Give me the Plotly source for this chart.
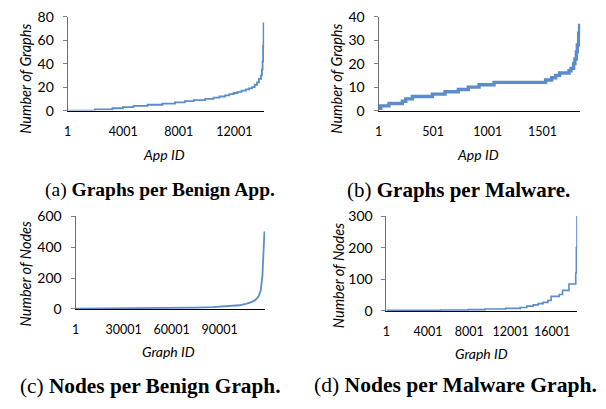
import plotly.graph_objects as go

# ---------------- data ----------------
# (a) Graphs per Benign App: step starts (App ID) and values
a_ids  = [1, 1967, 3223, 3981, 4739, 5758, 6825, 7725, 8436, 9076, 9905, 10498, 10924,
          11327, 11635, 11943, 12228, 12512, 12820, 13057, 13270, 13460, 13626, 13768,
          13910, 13981, 14029, 14064, 14100]
a_vals = [0, 1, 2, 3, 4, 5, 6, 7, 8, 9, 10, 11, 12, 13, 14, 15, 16, 17, 18, 19, 20, 22,
          24, 27, 30, 35, 42, 55, 75]

# (b) Graphs per Malware
b_ids  = [1, 21, 97, 219, 250, 311, 494, 609, 731, 822, 920, 1057, 1529, 1584, 1621,
          1657, 1743, 1761, 1785, 1797, 1810, 1819, 1831, 1840]
b_vals = [1, 2, 3, 4, 5, 6, 7, 8, 9, 10, 11, 12, 13, 14, 15, 16, 17, 18, 20, 22, 25,
          28, 33, 37]

# (c) Nodes per Benign Graph
c_ids  = [1, 44000, 56700, 75000, 85700, 97070, 102290, 106380, 109490, 112220, 114270,
          115700, 116760, 117380, 118000]
c_vals = [2, 4, 6, 9, 12, 18, 24, 33, 43, 57, 80, 120, 220, 365, 500]

# (d) Nodes per Malware Graph
d_ids  = [1, 5200, 7900, 9500, 11500, 12920, 13551, 14181, 14652, 15122, 15593, 15903,
          16684, 17004, 17625, 18280, 18340, 18400]
d_vals = [2, 3, 4, 6, 8, 11, 15, 19, 23, 27, 33, 46, 52, 65, 85, 120, 200, 300]

a_ticks = [1, 4001, 8001, 12001]
b_ticks = [1, 501, 1001, 1501]
c_ticks = [1, 30001, 60001, 90001]
d_ticks = [1, 4001, 8001, 12001, 16001]

W, H = 606, 409
BLUE = "#5B8CCB"
SANS = "Lato, Carlito, Calibri, sans-serif"
SERIF = "Liberation Serif, Times New Roman, serif"

def xd(x0, x1):
    return [x0 / W, x1 / W]

def yd(top, bottom):
    return [1 - bottom / H, 1 - top / H]

fig = go.Figure()
panels = [
    ("x", "y", a_ids, a_vals, "hv", 1.8),
    ("x2", "y2", b_ids, b_vals, "hv", 3.4),
    ("x3", "y3", c_ids, c_vals, "linear", 1.8),
    ("x4", "y4", d_ids, d_vals, "hv", 1.6),
]
for xa, ya, xs, ys, shape, w in panels:
    fig.add_trace(go.Scatter(x=xs, y=ys, mode="lines", xaxis=xa, yaxis=ya,
                             line=dict(color=BLUE, width=w, shape=shape),
                             showlegend=False, hoverinfo="skip"))

def xaxis(domain, anchor, rng, ticks):
    return dict(domain=domain, anchor=anchor, range=rng, tickvals=ticks,
                ticktext=[str(t) for t in ticks], showline=True, linecolor="#000000",
                linewidth=1, ticks="", ticklabelstandoff=9, showgrid=False,
                zeroline=False, tickfont=dict(family=SANS, size=12.5, color="#000"))

def yaxis(domain, anchor, rng, dtick):
    return dict(domain=domain, anchor=anchor, range=rng, dtick=dtick,
                showline=True, linecolor="#707070", linewidth=1, ticks="outside",
                ticklen=4, tickcolor="#808080", ticklabelstandoff=6, showgrid=False,
                zeroline=False, tickfont=dict(family=SANS, size=14, color="#000"))

fig.update_layout(
    width=W, height=H, margin=dict(l=0, r=0, t=0, b=0),
    paper_bgcolor="white", plot_bgcolor="white",
    xaxis=xaxis(xd(64, 262), "y", [1, 14150], a_ticks),
    yaxis=yaxis(yd(8, 106), "x", [0, 80], 20),
    xaxis2=xaxis(xd(377, 580), "y2", [1, 1845], b_ticks),
    yaxis2=yaxis(yd(8, 106), "x2", [0, 40], 10),
    xaxis3=xaxis(xd(72, 263), "y3", [1, 118500], c_ticks),
    yaxis3=yaxis(yd(216, 313), "x3", [0, 600], 200),
    xaxis4=xaxis(xd(385, 577), "y4", [1, 18420], d_ticks),
    yaxis4=yaxis(yd(216, 315), "x4", [0, 300], 100),
)

ann = []
def text(x, y, t, size, family, angle=0, italic=False):
    ann.append(dict(x=x / W, y=1 - y / H, xref="paper", yref="paper", text=t,
                    showarrow=False, textangle=angle, xanchor="center", yanchor="middle",
                    font=dict(family=family, size=size, color="#000",
                              style="italic" if italic else "normal")))

text(22, 73, "Number of Graphs", 14.5, SANS, -90, True)
text(161, 152, "App ID", 14, SANS, 0, True)
text(335, 73, "Number of Graphs", 14.5, SANS, -90, True)
text(477, 152, "App ID", 14, SANS, 0, True)
text(22, 276, "Number of Nodes", 14.5, SANS, -90, True)
text(166, 357, "Graph ID", 14, SANS, 0, True)
text(337, 278, "Number of Nodes", 14.5, SANS, -90, True)
text(481, 359, "Graph ID", 14, SANS, 0, True)

text(157, 189, "(a) <b>Graphs per Benign App.</b>", 19.5, SERIF)
text(458, 189, "(b) <b>Graphs per Malware.</b>", 21, SERIF)
text(147, 393, "(c) <b>Nodes per Benign Graph.</b>", 21.3, SERIF)
text(455, 392, "(d) <b>Nodes per Malware Graph.</b>", 21.6, SERIF)
fig.update_layout(annotations=ann)

fig.write_html("out.html",
               config={"displayModeBar": False, "staticPlot": True},
               post_script="document.body.style.margin='0px';"
                           "document.body.style.overflow='hidden';")
